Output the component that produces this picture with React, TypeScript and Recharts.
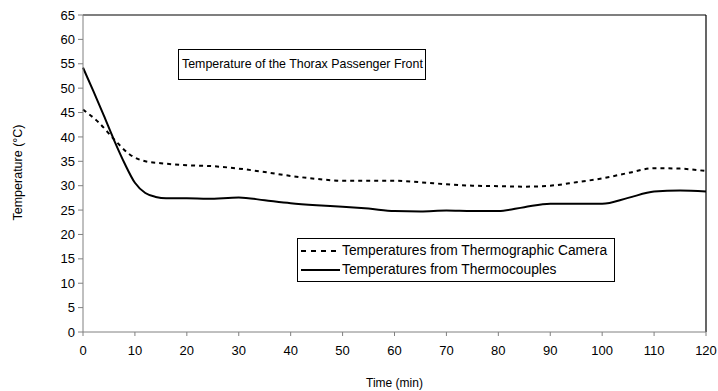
import React from "react";
import {
  LineChart,
  Line,
  XAxis,
  YAxis,
  ReferenceLine,
  Legend,
} from "recharts";

const cameraTimes = [0, 3, 6, 9, 12, 15, 20, 25, 30, 35, 40, 45, 50, 55, 60, 65, 70, 75, 80, 85, 90, 95, 100, 105, 110, 115, 120];
const cameraValues = [45.6, 43, 39.5, 36.4, 35, 34.6, 34.2, 34, 33.5, 32.8, 32, 31.4, 31, 31, 31, 30.7, 30.3, 30, 29.9, 29.8, 30, 30.7, 31.5, 32.6, 33.6, 33.5, 33];

const coupleTimes = [0, 2, 4, 6, 8, 10, 12, 14, 16, 20, 24, 30, 35, 40, 45, 50, 55, 60, 65, 70, 75, 80, 85, 90, 95, 100, 105, 110, 115, 120];
const coupleValues = [54.2, 49.4, 44.4, 39.3, 34.6, 30.6, 28.5, 27.7, 27.4, 27.4, 27.3, 27.6, 27, 26.4, 26, 25.7, 25.3, 24.8, 24.7, 24.9, 24.8, 24.8, 25.6, 26.3, 26.3, 26.3, 27.5, 28.8, 29, 28.8];

const xTicks = [0, 10, 20, 30, 40, 50, 60, 70, 80, 90, 100, 110, 120];
const yTicks = [0, 5, 10, 15, 20, 25, 30, 35, 40, 45, 50, 55, 60, 65];

const seriesNames = ["Temperatures from Thermographic Camera", "Temperatures from Thermocouples"];
const chartTitle = "Temperature of the Thorax Passenger Front";

const cameraData = cameraTimes.map((t, i) => ({ t, v: cameraValues[i] }));
const coupleData = coupleTimes.map((t, i) => ({ t, v: coupleValues[i] }));

const FONT = "'Liberation Sans', Arial, sans-serif";

const LegendBox = () => (
  <div
    style={{
      border: "1px solid #000",
      background: "#fff",
      padding: "2px 6px 2px 2px",
      fontFamily: FONT,
      fontSize: 13.8,
      color: "#000",
      lineHeight: "19px",
      width: 318,
      boxSizing: "border-box",
      textAlign: "left",
    }}
  >
    <div style={{ display: "flex", alignItems: "center" }}>
      <svg width={41} height={10}>
        <line x1={1} y1={5} x2={40} y2={5} stroke="#000" strokeWidth={2} strokeDasharray="5 5" />
      </svg>
      <span style={{ marginLeft: 1 }}>{seriesNames[0]}</span>
    </div>
    <div style={{ display: "flex", alignItems: "center" }}>
      <svg width={41} height={10}>
        <line x1={1} y1={5} x2={40} y2={5} stroke="#000" strokeWidth={2} />
      </svg>
      <span style={{ marginLeft: 1 }}>{seriesNames[1]}</span>
    </div>
  </div>
);

export default function App() {
  return (
    <div style={{ position: "absolute", left: 0, top: 0, width: 718, height: 391, background: "#fff" }}>
      <LineChart
        width={718}
        height={391}
        margin={{ top: 15, right: 12, bottom: 29, left: 43 }}
      >
        <XAxis
          dataKey="t"
          type="number"
          domain={[0, 120]}
          ticks={xTicks}
          allowDuplicatedCategory={false}
          height={30}
          stroke="#808080"
          tickSize={4}
          tick={{ fill: "#000", fontSize: 13, fontFamily: FONT }}
          tickMargin={10}
          label={{ value: "Time (min)", position: "insideBottom", offset: -25, fill: "#000", fontSize: 12, fontFamily: FONT }}
        />
        <YAxis
          type="number"
          domain={[0, 65]}
          ticks={yTicks}
          width={40}
          stroke="#808080"
          tickSize={5}
          tick={{ fill: "#000", fontSize: 13, fontFamily: FONT }}
          tickMargin={3}
          label={{ value: "Temperature (°C)", angle: -90, position: "insideLeft", offset: -25, dy: 47, fill: "#000", fontSize: 12.5, fontFamily: FONT }}
        />
        <ReferenceLine y={65} stroke="#000" strokeWidth={1.2} />
        <ReferenceLine x={120} stroke="#000" strokeWidth={1.2} />
        <Line
          data={cameraData}
          dataKey="v"
          name={seriesNames[0]}
          type="monotone"
          stroke="#000"
          strokeWidth={2}
          strokeDasharray="4 4"
          dot={false}
          isAnimationActive={false}
        />
        <Line
          data={coupleData}
          dataKey="v"
          name={seriesNames[1]}
          type="monotone"
          stroke="#000"
          strokeWidth={2}
          dot={false}
          isAnimationActive={false}
        />
        <Legend
          content={() => <LegendBox />}
          layout="vertical"
          verticalAlign="middle"
          align="center"
          wrapperStyle={{ position: "absolute", left: 297, top: 238, width: 318, margin: 0 }}
        />
      </LineChart>
      <div
        style={{
          position: "absolute",
          left: 178,
          top: 49,
          width: 248,
          height: 31,
          border: "1px solid #000",
          boxSizing: "border-box",
          fontFamily: FONT,
          fontSize: 12.4,
          lineHeight: "29px",
          paddingLeft: 3,
          color: "#000",
          background: "#fff",
          whiteSpace: "nowrap",
        }}
      >
        {chartTitle}
      </div>
    </div>
  );
}
